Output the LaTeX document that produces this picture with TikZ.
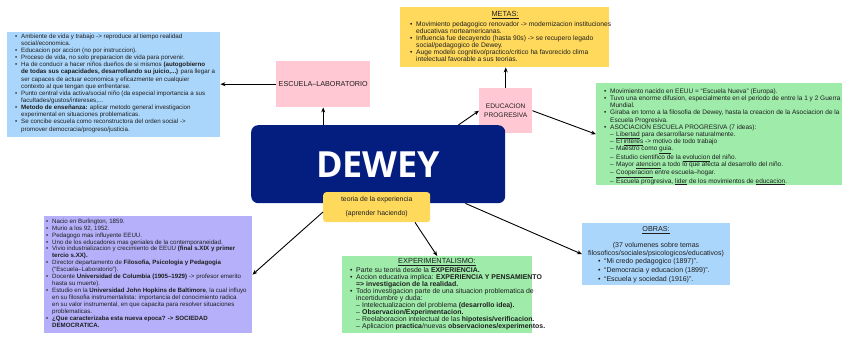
\documentclass[tikz,border=0pt]{standalone}
\usepackage{fontspec}
\setmainfont{Liberation Sans}
\newfontfamily\deweyfont{Open Sans}
\usetikzlibrary{arrows.meta,calc}
\definecolor{bluebox}{HTML}{ABD6FB}
\definecolor{pinkbox}{HTML}{FFC8D2}
\definecolor{yellowbox}{HTML}{FFD95C}
\definecolor{greenbox}{HTML}{9EEBAA}
\definecolor{navybox}{HTML}{041E80}
\definecolor{purplebox}{HTML}{B5B0F9}
\definecolor{ink}{HTML}{1E1E1E}
\newcommand{\bu}{\makebox[6pt][l]{\textbullet}}
\newcommand{\ct}{\hspace*{6pt}}
\newcommand{\da}{\hspace*{6pt}\makebox[6pt][l]{--}}
\begin{document}
\begin{tikzpicture}[x=1pt,y=-1pt,
  panel/.style={inner sep=0, anchor=north west, draw=none},
  txt/.style={inner sep=0, anchor=north west, align=left, text=ink,
    font=\fontsize{6.2}{7.15}\selectfont},
  ttl/.style={inner sep=0, text=ink, font=\fontsize{7}{8}\selectfont},
  arr/.style={draw=black, line width=0.9pt, -{Stealth[length=5pt,width=4pt]}}]
\useasboundingbox[fill=white] (0,0) rectangle (848,342);

% ---------- panels ----------
\node[panel, fill=bluebox, minimum width=213pt, minimum height=105pt] (blue) at (7,32) {};
\node[panel, fill=pinkbox, minimum width=94pt, minimum height=46pt] (esc) at (276,61) {};
\node[panel, fill=yellowbox, minimum width=209pt, minimum height=60pt] (metas) at (400,7) {};
\node[panel, fill=pinkbox, minimum width=53pt, minimum height=45pt] (edu) at (479,88) {};
\node[panel, fill=greenbox, minimum width=246pt, minimum height=102pt] (green) at (596,83) {};
\node[panel, fill=navybox, rounded corners=7pt, minimum width=254pt, minimum height=78pt] (dewey) at (251,125) {};
\node[panel, fill=yellowbox, rounded corners=3pt, minimum width=107pt, minimum height=30pt] (teo) at (323,192) {};
\node[panel, fill=purplebox, minimum width=208pt, minimum height=117pt] (purple) at (44,216) {};
\node[panel, fill=greenbox, minimum width=190pt, minimum height=77pt] (exp) at (342,256) {};
\node[panel, fill=bluebox, minimum width=148pt, minimum height=62pt] (obras) at (582,223) {};

% ---------- texts ----------
\node[ttl, font=\fontsize{7.2}{8}\selectfont] (escT) at (esc.center) {ESCUELA--LABORATORIO};
\node[ttl, align=center, font=\fontsize{6.6}{8.3}\selectfont] (eduT) at (edu.center) {EDUCACION\\PROGRESIVA};
\node[inner sep=0, text=white, font=\deweyfont\bfseries\fontsize{36}{40}\selectfont] (deweyT) at (dewey.center) {DEWEY};
\node[inner sep=0, align=center, text=ink, font=\fontsize{6.9}{14}\selectfont] (teoT) at (teo.center) {teoria de la experiencia\\(aprender haciendo)};

\node[txt] (blueT) at (15,33.5) {%
\bu Ambiente de vida y trabajo -> reproduce al tiempo realidad\\
\ct social/economica.\\
\bu Educacion por accion (no por instruccion).\\
\bu Proceso de vida, no solo preparacion de vida para porvenir.\\
\bu Ha de conducir a hacer niños dueños de si mismos \textbf{(autogobierno}\\
\ct\textbf{de todas sus capacidades, desarrollando su juicio,...)} para llegar a\\
\ct ser capaces de actuar economica y eficazmente en cualquier\\
\ct contexto al que tengan que enfrentarse.\\
\bu Punto central vida activa/social niño (da especial importancia a sus\\
\ct facultades/gustos/intereses,...\\
\bu \textbf{Metodo de enseñanza:} aplicar metodo general investigacion\\
\ct experimental en situaciones problematicas.\\
\bu Se concibe escuela como reconstructora del orden social ->\\
\ct promover democracia/progreso/justicia.};

\node[ttl, font=\fontsize{7.4}{8}\selectfont] (metasH) at (505,15) {\underline{METAS:}};
\node[txt, font=\fontsize{6.7}{7}\selectfont] (metasT) at (410,21.5) {%
\bu Movimiento pedagogico renovador -> modernizacion instituciones\\
\ct educativas norteamericanas.\\
\bu Influencia fue decayendo (hasta 90s) -> se recupero legado\\
\ct social/pedagogico de Dewey.\\
\bu Auge modelo cognitivo/practico/critico ha favorecido clima\\
\ct intelectual favorable a sus teorias.};

\node[txt, font=\fontsize{6.5}{7.17}\selectfont] (greenT) at (604,88.5) {%
\bu Movimiento nacido en EEUU = “Escuela Nueva” (Europa).\\
\bu Tuvo una enorme difusion, especialmente en el periodo de entre la 1 y 2 Guerra\\
\ct Mundial.\\
\bu Giraba en torno a la filosofia de Dewey, hasta la creacion de la Asociacion de la\\
\ct Escuela Progresiva.\\
\bu ASOCIACION ESCUELA PROGRESIVA (7 ideas):\\
\da\underline{Libertad} para desarrollarse naturalmente.\\
\da El \underline{interes} -> motivo de todo trabajo\\
\da Maestro como \underline{guia}.\\
\da Estudio cientifico de la \underline{evolucion} del niño.\\
\da Mayor \underline{atencion} a todo lo que afecta al desarrollo del niño.\\
\da\underline{Cooperacion} entre escuela--hogar.\\
\da Escuela progresiva, \underline{lider} de los movimientos de \underline{educacion}.};

\node[txt, font=\fontsize{6.15}{6.95}\selectfont] (purpleT) at (46,218.5) {%
\bu Nacio en Burlington, 1859.\\
\bu Murio a los 92, 1952.\\
\bu Pedagogo mas influyente EEUU.\\
\bu Uno de los educadores mas geniales de la contemporaneidad.\\
\bu Vivio industrializacion y crecimiento de EEUU \textbf{(final s.XIX y primer}\\
\ct\textbf{tercio s.XX).}\\
\bu Director departamento de \textbf{Filosofia, Psicologia y Pedagogia}\\
\ct (“Escuela--Laboratorio”).\\
\bu Docente \textbf{Universidad de Columbia (1905--1929)} -> profesor emerito\\
\ct hasta su muerte).\\
\bu Estudio en la \textbf{Universidad John Hopkins de Baltimore}, la cual influyo\\
\ct en su filosofia instrumentalista: importancia del conocimiento radica\\
\ct en su valor instrumental, en que capacita para resolver situaciones\\
\ct problematicas.\\
\bu \textbf{¿Que caracterizaba esta nueva epoca? -> SOCIEDAD}\\
\ct\textbf{DEMOCRATICA.}};

\node[ttl, font=\fontsize{7.4}{8}\selectfont] (expH) at (437,262) {\underline{EXPERIMENTALISMO:}};
\node[txt, font=\fontsize{6.9}{7}\selectfont] (expT) at (350,267.5) {%
\bu Parte su teoria desde la \textbf{EXPERIENCIA.}\\
\bu Accion educativa implica: \textbf{EXPERIENCIA Y PENSAMIENTO}\\
\ct\textbf{=> investigacion de la realidad.}\\
\bu Todo investigacion parte de una situacion problematica de\\
\ct incertidumbre y duda:\\
\da Intelectualizacion del problema \textbf{(desarrollo idea).}\\
\da\textbf{Observacion/Experimentacion.}\\
\da Reelaboracion intelectual de las \textbf{hipotesis/verificacion.}\\
\da Aplicacion \textbf{practica}/nuevas \textbf{observaciones/experimentos.}};

\node[ttl, font=\fontsize{7.2}{8}\selectfont] (obrasH) at (656,230) {\underline{OBRAS:}};
\node[inner sep=0, align=center, text=ink, font=\fontsize{7}{8}\selectfont] (obrasP) at (656,250) {(37 volumenes sobre temas\\filosoficos/sociales/psicologicos/educativos)};
\node[txt, font=\fontsize{7}{8.9}\selectfont] (obrasT) at (598,258.5) {%
\bu “Mi credo pedagogico (1897)”.\\
\bu “Democracia y educacion (1899)”.\\
\bu “Escuela y sociedad (1916)”.};

% ---------- connectors ----------
\draw[arr] (dewey.north -| esc.south) -- (esc.south);
\draw[arr] (esc.west) -- (esc.west -| blue.east);
\draw[arr] ($(dewey.north east)+(-47,0)$) -- (edu.west);
\draw[arr] (edu.north) -- (edu.north |- metas.south);
\draw[arr] (edu.east) -- (green.west);
\draw[arr] ($(dewey.south east)+(-40,0)$) -- (obras.west);
\draw[arr] ($(teo.north west)+(0,20)$) -- (purple.east);
\draw[arr] ($(teo.south west)+(92,0)$) -- (exp.north);
\end{tikzpicture}
\end{document}
